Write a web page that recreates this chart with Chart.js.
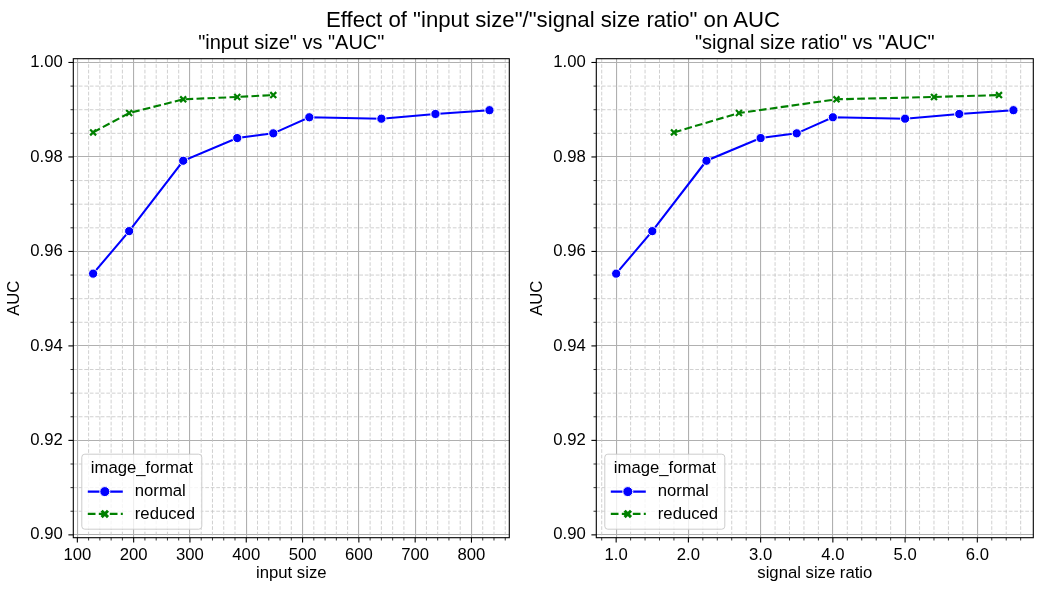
<!DOCTYPE html>
<html>
<head>
<meta charset="utf-8">
<script src="https://cdn.jsdelivr.net/npm/chart.js@4/dist/chart.umd.min.js"></script>
<style>
  html, body { margin: 0; padding: 0; background: #fff; }
  #wrap { position: relative; width: 1042px; height: 593px; background: #fff; overflow: hidden; }
  .cv { position: absolute; top: 0; }
  .t { position: absolute; text-align: center; color: #000; font-family: "Liberation Sans", Arial, sans-serif; white-space: nowrap; }
  .sup { left: 253px; width: 600px; top: 8.9px; font-size: 22.2px; line-height: 22.2px; }
  .sub { top: 32.1px; font-size: 20px; line-height: 20px; }
</style>
</head>
<body>
<div id="wrap">
  <div class="cv" style="left:0;width:521px;height:593px"><canvas id="c1" width="521" height="593" style="width:521px;height:593px"></canvas></div>
  <div class="cv" style="left:523px;width:519px;height:593px"><canvas id="c2" width="519" height="593" style="width:519px;height:593px"></canvas></div>
  <div class="t sup">Effect of "input size"/"signal size ratio" on AUC</div>
  <div class="t sub" style="left:73.3px;width:436px">"input size" vs "AUC"</div>
  <div class="t sub" style="left:596.3px;width:437px">"signal size ratio" vs "AUC"</div>
</div>
<script>
// ---- data ----
const inputSizeNormal   = [128, 192, 288, 384, 448, 512, 640, 736, 832];
const inputSizeReduced  = [128, 192, 288, 384, 448];
const ratioNormal       = [1.0, 1.5, 2.25, 3.0, 3.5, 4.0, 5.0, 5.75, 6.5];
const ratioReduced      = [1.8, 2.7, 4.05, 5.4, 6.3];
const aucNormal         = [0.9553, 0.9643, 0.9792, 0.9840, 0.9850, 0.9884, 0.9881, 0.9891, 0.9899];
const aucReduced        = [0.9852, 0.9893, 0.9922, 0.9927, 0.9931];
const seriesNames       = ['normal', 'reduced'];
const legendTitle       = 'image_format';
const yTickLabels       = ['0.90', '0.92', '0.94', '0.96', '0.98', '1.00'];

const FONT = '"Liberation Sans", Arial, sans-serif';
Chart.defaults.font.family = FONT;
Chart.defaults.color = '#000';

function near(v, step) { const q = v / step; return Math.abs(q - Math.round(q)) < 1e-6; }

function makeAxis(axis, min, max, minorStep, majorStep, fmt, titleText) {
  const isMajor = v => near(v, majorStep);
  const cfg = {
    type: 'linear', min: min, max: max,
    afterBuildTicks(scale) {
      const t = [];
      const s = Math.ceil(min / minorStep - 1e-9), e = Math.floor(max / minorStep + 1e-9);
      for (let k = s; k <= e; k++) t.push({ value: +(k * minorStep).toFixed(6) });
      scale.ticks = t;
    },
    afterFit(scale) {
      if (axis === 'x') scale.height = 593 - 537.7; else scale.width = 73.3;
    },
    ticks: {
      autoSkip: false, maxRotation: 0, minRotation: 0,
      padding: axis === 'x' ? 7.2 : 10.5,
      color: '#000', font: { size: 16.7 },
      callback: v => isMajor(v) ? fmt(v) : ''
    },
    grid: {
      drawTicks: false,
      color: c => (c.tick && isMajor(c.tick.value)) ? '#b0b0b0' : 'rgba(0,0,0,0)',
      lineWidth: 1.1
    },
    border: { display: false },
    title: {
      display: true, text: titleText, color: '#000', font: { size: 16.7 },
      padding: axis === 'x' ? { top: 0, bottom: 10 } : { top: 4.3, bottom: 0 }
    }
  };
  cfg._minor = minorStep; cfg._major = majorStep;
  return cfg;
}

const decor = {
  id: 'decor',
  beforeDatasetsDraw(chart) {
    const { ctx, chartArea: a } = chart;
    ctx.save();
    ctx.beginPath(); ctx.rect(a.left, a.top, a.right - a.left, a.bottom - a.top); ctx.clip();
    ctx.strokeStyle = '#c4c4c4'; ctx.lineWidth = 0.8; ctx.setLineDash([3.7, 1.8]);
    for (const id of ['x', 'y']) {
      const sc = chart.scales[id]; const maj = sc.options._major;
      for (const t of sc.ticks) {
        if (near(t.value, maj)) continue;
        const p = sc.getPixelForValue(t.value);
        ctx.beginPath();
        if (id === 'x') { ctx.moveTo(p, a.top); ctx.lineTo(p, a.bottom); }
        else { ctx.moveTo(a.left, p); ctx.lineTo(a.right, p); }
        ctx.stroke();
      }
    }
    ctx.restore();
  },
  afterDatasetsDraw(chart) {
    const { ctx, chartArea: a } = chart;
    ctx.save();
    // tick marks
    ctx.strokeStyle = '#000';
    for (const id of ['x', 'y']) {
      const sc = chart.scales[id]; const maj = sc.options._major;
      for (const t of sc.ticks) {
        const m = near(t.value, maj);
        const len = m ? 4.9 : 2.8;
        ctx.lineWidth = m ? 1.1 : 0.8;
        const p = sc.getPixelForValue(t.value);
        ctx.beginPath();
        if (id === 'x') { ctx.moveTo(p, a.bottom); ctx.lineTo(p, a.bottom + len); }
        else { ctx.moveTo(a.left, p); ctx.lineTo(a.left - len, p); }
        ctx.stroke();
      }
    }
    // spines
    ctx.lineWidth = 1.1; ctx.strokeStyle = '#000';
    ctx.strokeRect(a.left, a.top, a.right - a.left, a.bottom - a.top);

    // legend
    const w = 120, h = 75;
    const x0 = a.left + 8.5, y0 = a.bottom - 8.5 - h;
    ctx.beginPath();
    if (ctx.roundRect) ctx.roundRect(x0, y0, w, h, 3); else ctx.rect(x0, y0, w, h);
    ctx.fillStyle = 'rgba(255,255,255,0.8)'; ctx.fill();
    ctx.lineWidth = 1; ctx.strokeStyle = '#cccccc'; ctx.stroke();
    ctx.fillStyle = '#000'; ctx.font = '16.7px ' + FONT;
    ctx.textAlign = 'center'; ctx.textBaseline = 'middle';
    ctx.fillText(legendTitle, x0 + w / 2, y0 + 14);
    chart.data.datasets.forEach((ds, i) => {
      const yy = y0 + 37.4 + i * 22.3;
      ctx.save();
      ctx.strokeStyle = ds.borderColor; ctx.lineWidth = 2.1;
      ctx.setLineDash(ds.borderDash || []);
      ctx.beginPath(); ctx.moveTo(x0 + 6, yy); ctx.lineTo(x0 + 41, yy); ctx.stroke();
      ctx.setLineDash([]);
      const mx = x0 + 23;
      if (ds.pointStyle === 'circle') {
        ctx.beginPath(); ctx.arc(mx, yy, 5, 0, Math.PI * 2);
        ctx.fillStyle = ds.pointBackgroundColor; ctx.fill();
        ctx.strokeStyle = '#fff'; ctx.lineWidth = 1; ctx.stroke();
      } else {
        const r = 3.2;
        ctx.strokeStyle = ds.pointBorderColor; ctx.lineWidth = 3;
        ctx.beginPath();
        ctx.moveTo(mx - r, yy - r); ctx.lineTo(mx + r, yy + r);
        ctx.moveTo(mx - r, yy + r); ctx.lineTo(mx + r, yy - r);
        ctx.stroke();
      }
      ctx.restore();
      ctx.fillStyle = '#000'; ctx.textAlign = 'left'; ctx.textBaseline = 'middle';
      ctx.font = '16.7px ' + FONT;
      ctx.fillText(ds.label, x0 + 53, yy);
    });
    ctx.restore();
  }
};

function datasets(xn, xr) {
  return [
    {
      label: seriesNames[0],
      data: xn.map((x, i) => ({ x: x, y: aucNormal[i] })),
      borderColor: '#0000ff', backgroundColor: '#0000ff', borderWidth: 2.1,
      pointStyle: 'circle', pointRadius: 4.6, pointBackgroundColor: '#0000ff',
      pointBorderColor: '#ffffff', pointBorderWidth: 1, tension: 0, fill: false
    },
    {
      label: seriesNames[1],
      data: xr.map((x, i) => ({ x: x, y: aucReduced[i] })),
      borderColor: '#008000', backgroundColor: '#008000', borderWidth: 2.1,
      borderDash: [7.7, 3.3],
      pointStyle: 'crossRot', pointRadius: 4.2, pointBackgroundColor: '#008000',
      pointBorderColor: '#008000', pointBorderWidth: 2.2, tension: 0, fill: false
    }
  ];
}

function makeChart(id, xn, xr, xAxis, rightPad) {
  const yAxis = makeAxis('y', 0.8994, 1.0008, 0.005, 0.02, v => v.toFixed(2), 'AUC');
  return new Chart(document.getElementById(id), {
    type: 'line',
    data: { datasets: datasets(xn, xr) },
    options: {
      responsive: false, animation: false, events: [],
      layout: { padding: { left: 0, top: 58.7, right: rightPad, bottom: 0 } },
      plugins: { legend: { display: false }, title: { display: false }, tooltip: { enabled: false } },
      scales: { x: xAxis, y: yAxis }
    },
    plugins: [decor]
  });
}

makeChart('c1', inputSizeNormal, inputSizeReduced,
  makeAxis('x', 92.8, 867.2, 20, 100, v => String(Math.round(v)), 'input size'), 521 - 509.3);
makeChart('c2', ratioNormal, ratioReduced,
  makeAxis('x', 0.725, 6.775, 0.2, 1.0, v => v.toFixed(1), 'signal size ratio'), 519 - 510.3);
</script>
</body>
</html>
